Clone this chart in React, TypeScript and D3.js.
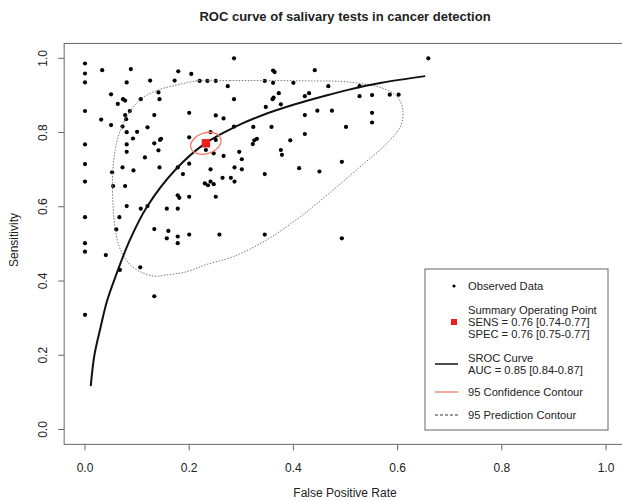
import React, { useEffect, useRef } from 'react';
import * as d3 from 'd3';

// observed study points: [false positive rate, sensitivity]
const observed: [number, number][] = [
  [0, 0.986], [0, 0.959], [0, 0.935], [0, 0.858], [0, 0.768], [0, 0.715], [0, 0.668],
  [0, 0.572], [0, 0.502], [0, 0.479], [0, 0.309],
  [0.033, 0.968], [0.088, 0.971], [0.08, 0.935], [0.125, 0.94], [0.179, 0.965], [0.204, 0.958],
  [0.172, 0.94], [0.22, 0.939], [0.235, 0.939], [0.251, 0.939], [0.286, 1.0], [0.274, 0.925],
  [0.286, 0.89], [0.031, 0.835], [0.05, 0.903], [0.063, 0.877], [0.073, 0.89], [0.077, 0.886],
  [0.086, 0.858], [0.077, 0.847], [0.079, 0.836], [0.05, 0.82], [0.072, 0.816], [0.08, 0.801],
  [0.1, 0.802], [0.092, 0.784], [0.12, 0.814], [0.133, 0.847], [0.2, 0.853], [0.107, 0.89],
  [0.141, 0.908], [0.143, 0.89], [0.08, 0.768], [0.133, 0.771], [0.144, 0.78], [0.146, 0.783],
  [0.2, 0.787], [0.052, 0.693], [0.054, 0.656], [0.066, 0.572], [0.06, 0.539], [0.072, 0.706],
  [0.077, 0.656], [0.08, 0.602], [0.08, 0.748], [0.093, 0.698], [0.115, 0.733], [0.107, 0.595],
  [0.12, 0.602], [0.133, 0.54], [0.157, 0.595], [0.16, 0.535], [0.157, 0.515], [0.178, 0.52],
  [0.178, 0.502], [0.178, 0.595], [0.178, 0.631], [0.181, 0.624], [0.188, 0.688], [0.178, 0.706],
  [0.2, 0.716], [0.2, 0.627], [0.2, 0.525], [0.23, 0.663], [0.236, 0.658], [0.241, 0.668],
  [0.247, 0.661], [0.232, 0.753], [0.241, 0.801], [0.251, 0.78], [0.241, 0.701], [0.247, 0.744],
  [0.251, 0.627], [0.258, 0.525], [0.266, 0.737], [0.266, 0.838], [0.251, 0.846], [0.264, 0.678],
  [0.28, 0.678], [0.287, 0.668], [0.287, 0.706], [0.286, 0.816], [0.296, 0.748], [0.301, 0.728],
  [0.301, 0.701], [0.323, 0.815], [0.322, 0.769], [0.325, 0.779], [0.33, 0.783], [0.345, 0.939],
  [0.345, 0.688], [0.345, 0.525], [0.347, 0.869], [0.358, 0.815], [0.361, 0.967], [0.364, 0.963],
  [0.361, 0.934], [0.372, 0.906], [0.36, 0.89], [0.362, 0.894], [0.376, 0.876], [0.376, 0.753],
  [0.378, 0.74], [0.394, 0.779], [0.4, 0.934], [0.411, 0.704], [0.422, 0.847], [0.422, 0.796],
  [0.422, 0.898], [0.43, 0.906], [0.441, 0.968], [0.446, 0.859], [0.45, 0.695], [0.467, 0.925],
  [0.474, 0.859], [0.493, 0.721], [0.493, 0.515], [0.501, 0.815], [0.527, 0.925], [0.527, 0.898],
  [0.551, 0.901], [0.551, 0.853], [0.551, 0.827], [0.585, 0.902], [0.602, 0.902], [0.659, 1.0],
  [0.04, 0.47], [0.067, 0.43], [0.106, 0.437], [0.133, 0.359], [0.141, 0.752], [0.143, 0.706],
];

// SROC curve
const srocCurve: [number, number][] = [
  [0.011, 0.117], [0.018, 0.2], [0.029, 0.27], [0.042, 0.345], [0.058, 0.41], [0.086, 0.51],
  [0.119, 0.6], [0.173, 0.699], [0.23, 0.77], [0.286, 0.814], [0.339, 0.846], [0.403, 0.876],
  [0.461, 0.899], [0.505, 0.915], [0.569, 0.934], [0.653, 0.952],
];

// 95% prediction contour
const predictionContour: [number, number][] = [
  [0.219, 0.94], [0.278, 0.94], [0.355, 0.94], [0.441, 0.939], [0.489, 0.938], [0.524, 0.933],
  [0.57, 0.92], [0.599, 0.897], [0.61, 0.861], [0.605, 0.815], [0.57, 0.758], [0.539, 0.721],
  [0.476, 0.645], [0.413, 0.573], [0.349, 0.511], [0.285, 0.466], [0.23, 0.443], [0.195, 0.425],
  [0.154, 0.416], [0.134, 0.413], [0.106, 0.425], [0.086, 0.445], [0.073, 0.47], [0.064, 0.5],
  [0.058, 0.54], [0.054, 0.6], [0.053, 0.69], [0.058, 0.753], [0.063, 0.785], [0.071, 0.816],
  [0.086, 0.856], [0.109, 0.892], [0.141, 0.915], [0.173, 0.927], [0.198, 0.935],
];

const summaryPoint = { fpr: 0.232, sens: 0.771 };
// confidence contour: semi-axes in data units, tilt in degrees
const confidence = { rx: 0.03, ry: 0.028, tilt: -18 };

const xTicks = [0, 0.2, 0.4, 0.6, 0.8, 1.0];
const yTicks = [0, 0.2, 0.4, 0.6, 0.8, 1.0];

const title = 'ROC curve of salivary tests in cancer detection';
const xLabel = 'False Positive Rate';
const yLabel = 'Sensitivity';

const legendObserved = ['Observed Data'];
const legendSummary = ['Summary Operating Point', 'SENS = 0.76 [0.74-0.77]', 'SPEC = 0.76 [0.75-0.77]'];
const legendSroc = ['SROC Curve', 'AUC = 0.85 [0.84-0.87]'];
const legendConf = ['95 Confidence Contour'];
const legendPred = ['95 Prediction Contour'];

const W = 622;
const H = 501;
const FONT = '"Liberation Sans", Arial, sans-serif';

const App = () => {
  const svgRef = useRef<SVGSVGElement>(null);

  useEffect(() => {
    if (!svgRef.current) return;
    const svg = d3.select(svgRef.current);
    svg.selectAll('*').remove();

    const x = d3.scaleLinear().domain([0, 1]).range([85, 606]);
    const y = d3.scaleLinear().domain([0, 1]).range([429.5, 58.3]);

    svg.append('rect').attr('width', W).attr('height', H).attr('fill', '#fff');

    // title
    svg.append('text')
      .attr('x', 345).attr('y', 21)
      .attr('text-anchor', 'middle')
      .attr('font-family', FONT).attr('font-weight', 'bold').attr('font-size', 13)
      .attr('fill', '#222')
      .text(title);

    // plot box (R style, 4% padding)
    svg.append('rect')
      .attr('x', x(-0.04)).attr('y', y(1.04))
      .attr('width', x(1.04) - x(-0.04)).attr('height', y(-0.04) - y(1.04))
      .attr('fill', 'none').attr('stroke', '#666').attr('stroke-width', 1);

    // x axis ticks
    const xAxis = svg.append('g');
    xAxis.selectAll('line').data(xTicks).enter().append('line')
      .attr('x1', d => x(d)).attr('x2', d => x(d))
      .attr('y1', y(-0.04)).attr('y2', y(-0.04) + 6)
      .attr('stroke', '#666');
    xAxis.selectAll('text').data(xTicks).enter().append('text')
      .attr('x', d => x(d)).attr('y', 472)
      .attr('text-anchor', 'middle')
      .attr('font-family', FONT).attr('font-size', 12).attr('fill', '#222')
      .text(d => d.toFixed(1));

    // y axis ticks
    const yAxis = svg.append('g');
    yAxis.selectAll('line').data(yTicks).enter().append('line')
      .attr('x1', x(-0.04) - 6).attr('x2', x(-0.04))
      .attr('y1', d => y(d)).attr('y2', d => y(d))
      .attr('stroke', '#666');
    yAxis.selectAll('text').data(yTicks).enter().append('text')
      .attr('transform', d => `translate(47,${y(d)}) rotate(-90)`)
      .attr('text-anchor', 'middle')
      .attr('font-family', FONT).attr('font-size', 12).attr('fill', '#222')
      .text(d => d.toFixed(1));

    // axis labels
    svg.append('text')
      .attr('x', 345).attr('y', 497)
      .attr('text-anchor', 'middle')
      .attr('font-family', FONT).attr('font-size', 12).attr('fill', '#222')
      .text(xLabel);
    svg.append('text')
      .attr('transform', `translate(18,240) rotate(-90)`)
      .attr('text-anchor', 'middle')
      .attr('font-family', FONT).attr('font-size', 12).attr('fill', '#222')
      .text(yLabel);

    // observed points
    svg.append('g').selectAll('circle').data(observed).enter().append('circle')
      .attr('cx', d => x(d[0])).attr('cy', d => y(d[1]))
      .attr('r', 2.1).attr('fill', '#000');

    // prediction contour
    const contourLine = d3.line<[number, number]>()
      .x(d => x(d[0])).y(d => y(d[1]))
      .curve(d3.curveCatmullRomClosed);
    svg.append('path')
      .datum(predictionContour)
      .attr('d', contourLine)
      .attr('fill', 'none').attr('stroke', '#777').attr('stroke-width', 1)
      .attr('stroke-dasharray', '1.5,1.5');

    // SROC curve
    const sroc = d3.line<[number, number]>()
      .x(d => x(d[0])).y(d => y(d[1]))
      .curve(d3.curveCatmullRom);
    svg.append('path')
      .datum(srocCurve)
      .attr('d', sroc)
      .attr('fill', 'none').attr('stroke', '#111').attr('stroke-width', 2);

    // summary point and confidence contour
    const cx = x(summaryPoint.fpr);
    const cy = y(summaryPoint.sens);
    svg.append('rect')
      .attr('x', cx - 4.2).attr('y', cy - 4.2)
      .attr('width', 8.4).attr('height', 8.4)
      .attr('fill', '#ee1c1c');
    svg.append('ellipse')
      .attr('cx', cx).attr('cy', cy)
      .attr('rx', x(confidence.rx) - x(0))
      .attr('ry', y(0) - y(confidence.ry))
      .attr('transform', `rotate(${confidence.tilt},${cx},${cy})`)
      .attr('fill', 'none').attr('stroke', '#f07a66').attr('stroke-width', 1.3);

    // legend
    const lg = svg.append('g').attr('transform', 'translate(425,269)');
    lg.append('rect').attr('width', 183).attr('height', 161)
      .attr('fill', '#fff').attr('stroke', '#666');
    const tx = 43;
    const rowH = 12;
    const addRows = (lines: string[], top: number) => {
      lg.append('g').selectAll('text').data(lines).enter().append('text')
        .attr('x', tx).attr('y', (_, i) => top + i * rowH + 4)
        .attr('font-family', FONT).attr('font-size', 11.2).attr('fill', '#222')
        .text(d => d);
    };
    addRows(legendObserved, 17);
    lg.append('circle').attr('cx', 29).attr('cy', 17).attr('r', 1.6).attr('fill', '#000');

    addRows(legendSummary, 41);
    lg.append('rect').attr('x', 26).attr('y', 50).attr('width', 6).attr('height', 6).attr('fill', '#ee1c1c');

    addRows(legendSroc, 89);
    lg.append('line').attr('x1', 10).attr('x2', 33).attr('y1', 95).attr('y2', 95)
      .attr('stroke', '#111').attr('stroke-width', 1.5);

    addRows(legendConf, 123);
    lg.append('line').attr('x1', 10).attr('x2', 33).attr('y1', 123).attr('y2', 123)
      .attr('stroke', '#f07a66').attr('stroke-width', 1.3);

    addRows(legendPred, 146);
    lg.append('line').attr('x1', 10).attr('x2', 33).attr('y1', 146).attr('y2', 146)
      .attr('stroke', '#333').attr('stroke-width', 1).attr('stroke-dasharray', '3,2');
  }, []);

  return (
    <svg
      ref={svgRef}
      width={W}
      height={H}
      style={{ position: 'absolute', left: 0, top: 0 }}
    />
  );
};

export default App;
